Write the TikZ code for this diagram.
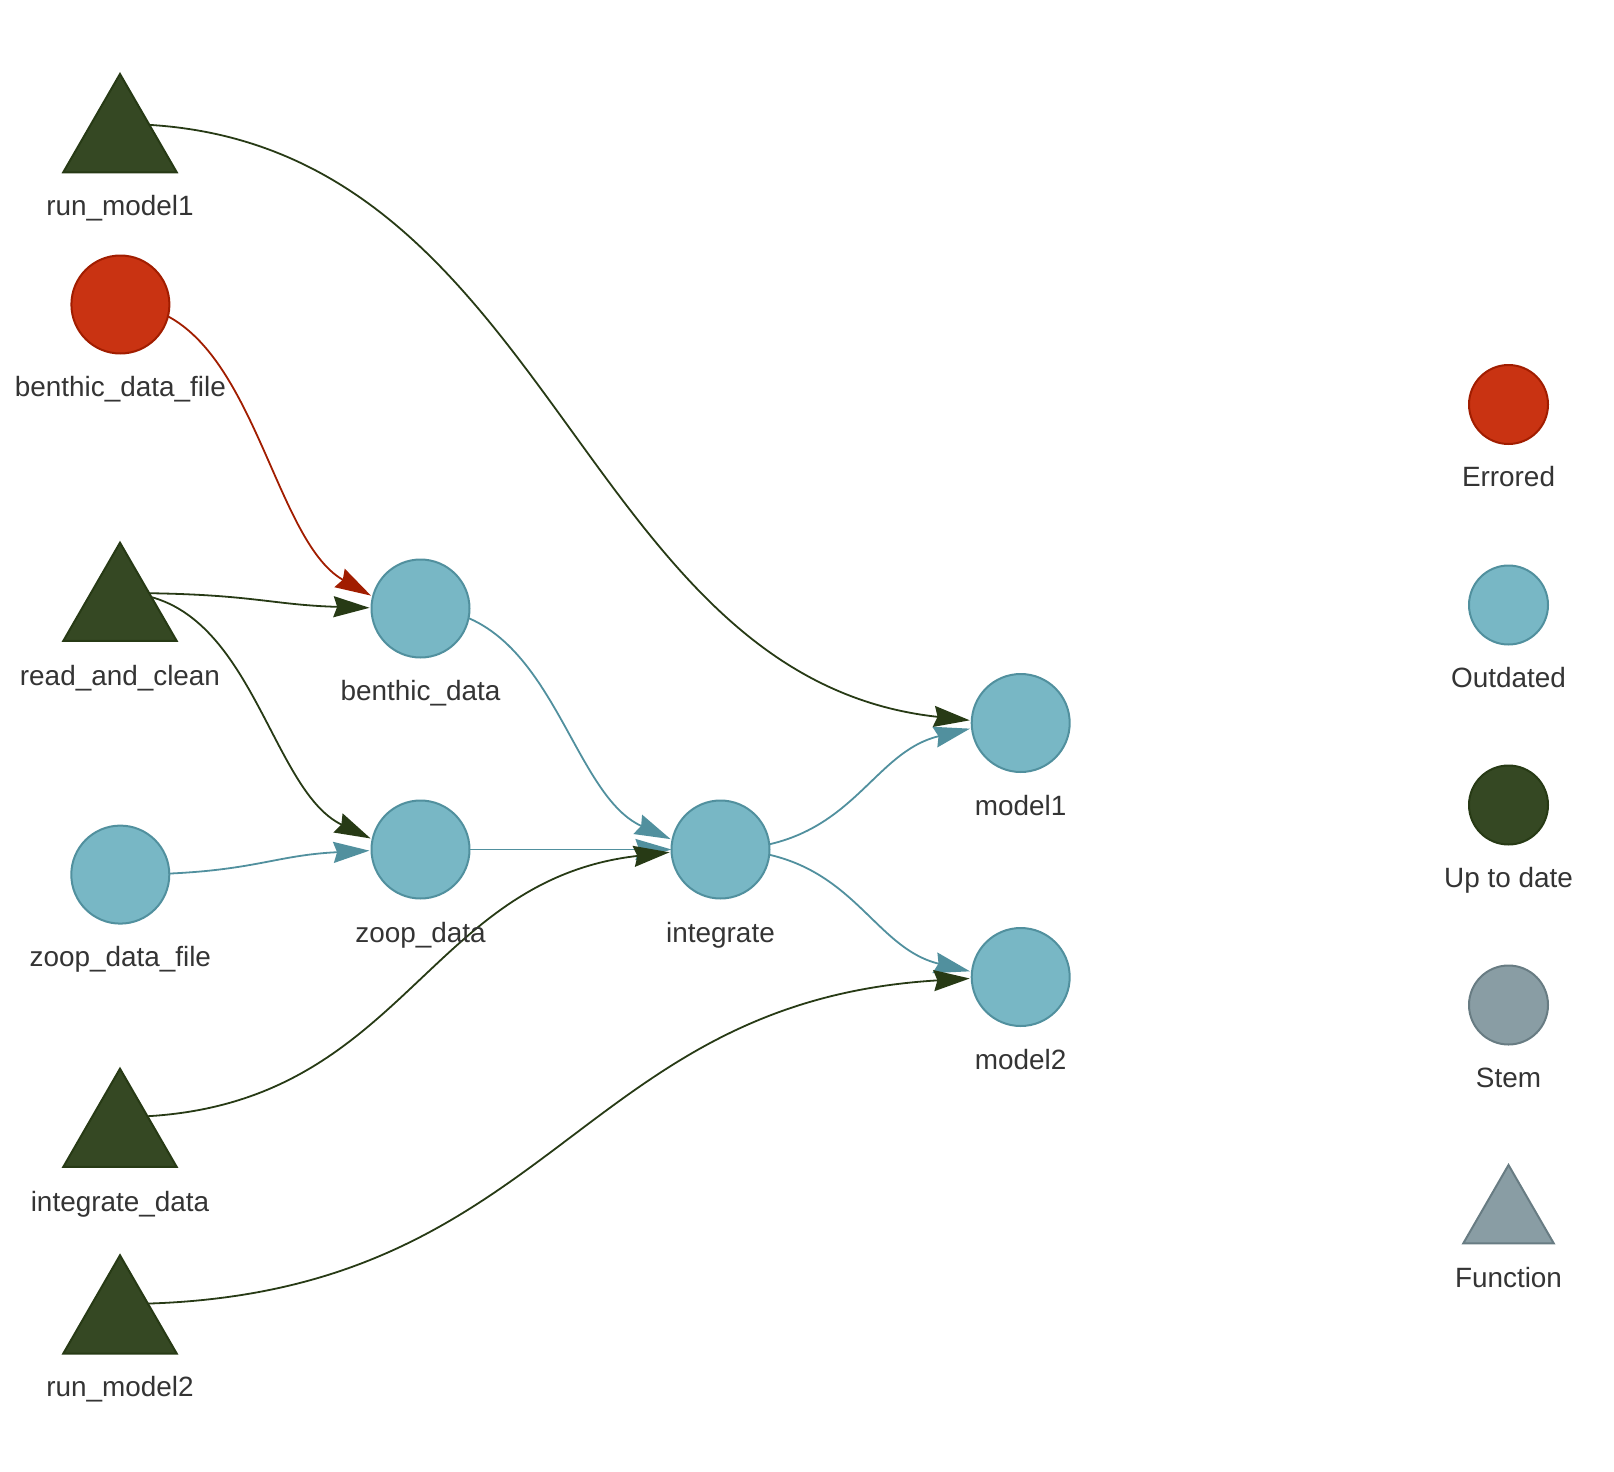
\documentclass[tikz,border=0pt]{standalone}
\usepackage{fontspec}
\setmainfont{Liberation Sans}
\usetikzlibrary{shapes.geometric,arrows.meta,calc}
\pgfdeclarelayer{edges}
\pgfsetlayers{edges,main}
\definecolor{outfill}{HTML}{78B7C5}
\definecolor{outline}{HTML}{51909E}
\definecolor{upfill}{HTML}{354823}
\definecolor{upline}{HTML}{273A15}
\definecolor{errfill}{HTML}{C93312}
\definecolor{errline}{HTML}{A11D00}
\definecolor{stemfill}{HTML}{899DA4}
\definecolor{stemline}{HTML}{687C83}
\definecolor{txt}{HTML}{343434}
% horizontal cubic Bezier (controls at mid x), cut at parameter #3 (border of target)
\newcommand\curvedge[4]{%
  \coordinate (em) at ($(#1)!0.5!(#2.center)$);
  \coordinate (ec1) at (em |- #1);
  \coordinate (ec2) at (em |- #2.center);
  \coordinate (ea1) at ($(#1)!#3!(ec1)$);
  \coordinate (ea2) at ($(ec1)!#3!(ec2)$);
  \coordinate (ea3) at ($(ec2)!#3!(#2.center)$);
  \coordinate (eb1) at ($(ea1)!#3!(ea2)$);
  \coordinate (eb2) at ($(ea2)!#3!(ea3)$);
  \coordinate (eq) at ($(eb1)!#3!(eb2)$);
  \draw[#4] (#1) .. controls (ea1) and (eb1) .. (eq);
}
\begin{document}
\begin{tikzpicture}[x=1pt,y=-1pt,
  every node/.style={inner sep=0pt, outer sep=0pt},
  dot/.style={circle, minimum size=98pt, line width=2pt},
  ldot/.style={circle, minimum size=79pt, line width=2pt},
  fun/.style={regular polygon, regular polygon sides=3, minimum size=131pt, line width=2pt},
  lfun/.style={regular polygon, regular polygon sides=3, minimum size=104.6pt, line width=2pt},
  outd/.style={fill=outfill, draw=outline},
  upd/.style={fill=upfill, draw=upline},
  err/.style={fill=errfill, draw=errline},
  stm/.style={fill=stemfill, draw=stemline},
  lab/.style={anchor=base, text=txt, font=\fontsize{27.9}{33}\selectfont},
  edg/.style={line width=1.8pt, -{Stealth[length=36pt,width=21pt,inset=3.6pt]}},
  oute/.style={edg, draw=outline},
  upe/.style={edg, draw=upline},
  erre/.style={edg, draw=errline}]
\useasboundingbox (0,0) rectangle (1614,1472);

% left column
\node[fun,upd] (rm1) at (120,139.5) {};
\coordinate (rm1o) at (120,124);
\node[lab] (rm1t) at (120,215) {run\_model1};

\node[dot,err] (bdf) at (120.4,304.5) {};
\node[lab] (bdft) at (120.4,396.5) {benthic\_data\_file};

\node[fun,upd] (rac) at (120,608.2) {};
\coordinate (raco) at (120,593);
\node[lab] (ract) at (120,685) {read\_and\_clean};

\node[dot,outd] (zdf) at (120.3,874.6) {};
\node[lab] (zdft) at (120.3,966.7) {zoop\_data\_file};

\node[fun,upd] (intd) at (120,1134.2) {};
\coordinate (intdo) at (120,1117);
\node[lab] (intdt) at (120,1211) {integrate\_data};

\node[fun,upd] (rm2) at (120,1320.8) {};
\coordinate (rm2o) at (120,1304);
\node[lab] (rm2t) at (120,1396.5) {run\_model2};

% middle
\node[dot,outd] (bd) at (420.5,608.5) {};
\node[lab] (bdt) at (420.5,700.5) {benthic\_data};
\node[dot,outd] (zd) at (420.5,849.5) {};
\node[lab] (zdt) at (420.5,942) {zoop\_data};
\node[dot,outd] (int) at (720.5,849.5) {};
\node[lab] (intt) at (720.5,942) {integrate};
\node[dot,outd] (m1) at (1020.7,723) {};
\node[lab] (m1t) at (1020.7,815) {model1};
\node[dot,outd] (m2) at (1020.7,977) {};
\node[lab] (m2t) at (1020.7,1069) {model2};

% legend
\node[ldot,err] (lerr) at (1508.5,404.5) {};
\node[lab] (lerrt) at (1508.5,486.7) {Errored};
\node[ldot,outd] (lout) at (1508.5,605) {};
\node[lab] (loutt) at (1508.5,687) {Outdated};
\node[ldot,upd] (lup) at (1508.5,805) {};
\node[lab] (lupt) at (1508.5,887) {Up to date};
\node[ldot,stm] (lstem) at (1508.5,1005) {};
\node[lab] (lstemt) at (1508.5,1087) {Stem};
\node[lfun,stm] (lfn) at (1508.5,1217.3) {};
\node[lab] (lfnt) at (1508.5,1287) {Function};

% edges
\begin{pgfonlayer}{edges}
\curvedge{rm1o}{m1}{0.9608}{upe}
\curvedge{bdf.center}{bd}{0.876}{erre}
\curvedge{raco}{bd}{0.872}{upe}
\curvedge{raco}{zd}{0.875}{upe}
\curvedge{zdf.center}{zd}{0.8715}{oute}
\curvedge{bd.center}{int}{0.875}{oute}
\draw[oute] (zd) -- (int);
\curvedge{intdo}{int}{0.94}{upe}
\curvedge{int.center}{m1}{0.8725}{oute}
\curvedge{int.center}{m2}{0.8725}{oute}
\curvedge{rm2o}{m2}{0.9608}{upe}
\end{pgfonlayer}
\end{tikzpicture}
\end{document}
